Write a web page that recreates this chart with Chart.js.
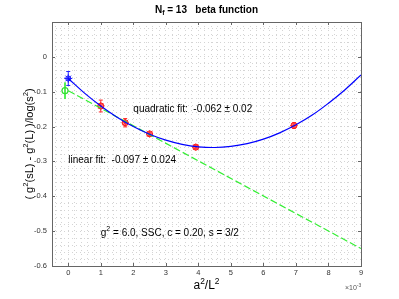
<!DOCTYPE html>
<html>
<head>
<meta charset="utf-8">
<title>Nf = 13 beta function</title>
<script src="https://cdn.jsdelivr.net/npm/chart.js@4.4.1/dist/chart.umd.min.js"></script>
<style>
    html, body { margin: 0; padding: 0; background: #fff; }
    #wrap { width: 399px; height: 299px; }
</style>
</head>
<body>
<div id="wrap"><canvas id="betaChart" width="399" height="299"></canvas></div>
<script>
// ============================================
// DATA (a^2/L^2 in units of 1e-3)
// ============================================

// measured points
const dataX = [1.0, 1.75, 2.5, 3.92, 6.94];
const dataY = [-0.141, -0.189, -0.221, -0.259, -0.197];
const dataErr = [0.017, 0.012, 0.005, 0.005, 0.008];

// continuum values at a^2/L^2 = 0
const quadX = [0];
const quadY = [-0.062];
const quadErr = [0.02];
const linX = [-0.1];
const linY = [-0.097];
const linErr = [0.024];

// fit curves
const quadCurveX = [0, 0.5, 1, 1.5, 2, 2.5, 3, 3.5, 4, 4.5, 5, 5.5, 6, 6.5, 7, 7.5, 8, 8.5, 9];
const quadCurveY = [-0.062, -0.104, -0.141, -0.173, -0.200, -0.222, -0.239, -0.251, -0.258, -0.260,
    -0.257, -0.249, -0.236, -0.218, -0.195, -0.167, -0.133, -0.095, -0.052];
const linLineX = [0, 9];
const linLineY = [-0.097, -0.550];

// axes
const xTicks = [0, 1, 2, 3, 4, 5, 6, 7, 8, 9];
const xTickLabels = ['0', '1', '2', '3', '4', '5', '6', '7', '8', '9'];
const yTicks = [-0.6, -0.5, -0.4, -0.3, -0.2, -0.1, 0];
const yTickLabels = ['-0.6', '-0.5', '-0.4', '-0.3', '-0.2', '-0.1', '0'];

const FONT = "'Liberation Sans', Arial, Helvetica, sans-serif";

function toPoints(xs, ys) {
    return xs.map((x, i) => ({ x: x, y: ys[i] }));
}

function majorIndex(list, v) {
    return list.findIndex(t => Math.abs(t - v) < 1e-6);
}

// ============================================
// TEXT WITH SUPER / SUBSCRIPTS
// ============================================

function drawRuns(ctx, runs, x, y, size, align, weight) {
    const w = weight || 'normal';
    let total = 0;
    runs.forEach(r => {
        const s = (r.sup || r.sub) ? size * 0.7 : size;
        ctx.font = w + ' ' + s + 'px ' + FONT;
        r.w = ctx.measureText(r.t).width;
        total += r.w;
    });
    let cx = align === 'center' ? x - total / 2 : x;
    ctx.textAlign = 'left';
    ctx.textBaseline = 'middle';
    runs.forEach(r => {
        const s = (r.sup || r.sub) ? size * 0.7 : size;
        ctx.font = w + ' ' + s + 'px ' + FONT;
        let dy = 0;
        if (r.sup) dy = -size * 0.38;
        if (r.sub) dy = size * 0.3;
        ctx.fillText(r.t, cx, y + dy);
        cx += r.w;
    });
}

// ============================================
// PLUGINS
// ============================================

const errorBarSets = [
    { xs: dataX, ys: dataY, errs: dataErr, color: '#ff2a2a', width: 1, cap: 2 },
    { xs: quadX, ys: quadY, errs: quadErr, color: '#2222ff', width: 1, cap: 2 },
    { xs: linX, ys: linY, errs: linErr, color: '#55f055', width: 2, cap: 0 }
];

const errorBarPlugin = {
    id: 'errorBars',
    beforeDatasetsDraw(chart) {
        const ctx = chart.ctx;
        const xs = chart.scales.x, ys = chart.scales.y;
        ctx.save();
        errorBarSets.forEach(set => {
            ctx.strokeStyle = set.color;
            ctx.lineWidth = set.width;
            set.xs.forEach((xv, i) => {
                const px = xs.getPixelForValue(xv);
                const top = ys.getPixelForValue(set.ys[i] + set.errs[i]);
                const bot = ys.getPixelForValue(set.ys[i] - set.errs[i]);
                ctx.beginPath();
                ctx.moveTo(px, top);
                ctx.lineTo(px, bot);
                if (set.cap) {
                    ctx.moveTo(px - set.cap, top);
                    ctx.lineTo(px + set.cap, top);
                    ctx.moveTo(px - set.cap, bot);
                    ctx.lineTo(px + set.cap, bot);
                }
                ctx.stroke();
            });
        });
        ctx.restore();
    }
};

const framePlugin = {
    id: 'frame',
    afterDraw(chart) {
        const ctx = chart.ctx;
        const a = chart.chartArea;
        const xs = chart.scales.x, ys = chart.scales.y;
        ctx.save();
        ctx.strokeStyle = '#666';
        ctx.lineWidth = 1;
        ctx.strokeRect(Math.round(a.left) + 0.5, Math.round(a.top) + 0.5,
            Math.round(a.right - a.left), Math.round(a.bottom - a.top));

        // inward ticks on all four sides
        const tl = 3;
        ctx.beginPath();
        xTicks.forEach(v => {
            const px = Math.round(xs.getPixelForValue(v)) + 0.5;
            ctx.moveTo(px, a.bottom);
            ctx.lineTo(px, a.bottom - tl);
            ctx.moveTo(px, a.top);
            ctx.lineTo(px, a.top + tl);
        });
        yTicks.forEach(v => {
            const py = Math.round(ys.getPixelForValue(v)) + 0.5;
            ctx.moveTo(a.left, py);
            ctx.lineTo(a.left + tl, py);
            ctx.moveTo(a.right, py);
            ctx.lineTo(a.right - tl, py);
        });
        ctx.stroke();

        // title
        ctx.fillStyle = '#000';
        const midX = (a.left + a.right) / 2;
        drawRuns(ctx, [{ t: 'N' }, { t: 'f', sub: true }, { t: ' = 13   beta function' }],
            midX, 10, 10, 'center', 'bold');

        // x label and exponent
        drawRuns(ctx, [{ t: 'a' }, { t: '2', sup: true }, { t: '/L' }, { t: '2', sup: true }],
            midX, 286, 12, 'center');
        ctx.fillStyle = '#555';
        drawRuns(ctx, [{ t: '\u00d710' }, { t: '-3', sup: true }], a.right - 16, 288, 7, 'left');

        // y label
        ctx.fillStyle = '#000';
        ctx.save();
        ctx.translate(30, (a.top + a.bottom) / 2);
        ctx.rotate(-Math.PI / 2);
        drawRuns(ctx, [
            { t: '( g' }, { t: '2', sup: true }, { t: '(sL) - g' }, { t: '2', sup: true },
            { t: '(L) )/log(s' }, { t: '2', sup: true }, { t: ')' }
        ], 0, 0, 11, 'center');
        ctx.restore();

        // annotations
        drawRuns(ctx, [{ t: 'quadratic fit:  -0.062 \u00b1 0.02' }],
            xs.getPixelForValue(2.0), ys.getPixelForValue(-0.149), 10, 'left');
        drawRuns(ctx, [{ t: 'linear fit:  -0.097 \u00b1 0.024' }],
            xs.getPixelForValue(0), ys.getPixelForValue(-0.296), 10, 'left');
        drawRuns(ctx, [{ t: 'g' }, { t: '2', sup: true }, { t: ' = 6.0, SSC, c = 0.20, s = 3/2' }],
            xs.getPixelForValue(1.0), ys.getPixelForValue(-0.505), 10, 'left');
        ctx.restore();
    }
};

// ============================================
// CHART
// ============================================

function buildChart() {
    const ctx = document.getElementById('betaChart');

    // minor grid positions (0.2 on x, 0.02 on y)
    const xGrid = [];
    for (let i = -2; i <= 45; i++) xGrid.push(Math.round(i * 0.2 * 10) / 10);
    const yGrid = [];
    for (let i = -30; i <= 5; i++) yGrid.push(Math.round(i * 0.02 * 100) / 100);

    new Chart(ctx, {
        type: 'scatter',
        data: {
            datasets: [
                {
                    label: 'quadratic fit',
                    data: toPoints(quadCurveX, quadCurveY),
                    showLine: true,
                    borderColor: '#0000ff',
                    borderWidth: 1.2,
                    pointRadius: 0,
                    tension: 0.4,
                    fill: false
                },
                {
                    label: 'linear fit',
                    data: toPoints(linLineX, linLineY),
                    showLine: true,
                    borderColor: '#33ee33',
                    borderWidth: 1.2,
                    borderDash: [7, 3],
                    pointRadius: 0,
                    fill: false
                },
                {
                    label: 'data',
                    data: toPoints(dataX, dataY),
                    pointStyle: 'circle',
                    pointRadius: 3,
                    backgroundColor: 'rgba(255, 80, 80, 0.4)',
                    borderColor: '#ff1a1a',
                    borderWidth: 1
                },
                {
                    label: 'data star',
                    data: toPoints(dataX, dataY),
                    pointStyle: 'star',
                    pointRadius: 3.5,
                    borderColor: '#ff1a1a',
                    borderWidth: 1
                },
                {
                    label: 'quadratic extrapolation',
                    data: toPoints(quadX, quadY),
                    pointStyle: 'star',
                    pointRadius: 4,
                    borderColor: '#1a1aff',
                    borderWidth: 1
                },
                {
                    label: 'quadratic extrapolation ring',
                    data: toPoints(quadX, quadY),
                    pointStyle: 'circle',
                    pointRadius: 2.5,
                    backgroundColor: 'rgba(0,0,0,0)',
                    borderColor: '#1a1aff',
                    borderWidth: 1
                },
                {
                    label: 'linear extrapolation',
                    data: toPoints(linX, linY),
                    pointStyle: 'circle',
                    pointRadius: 3,
                    backgroundColor: 'rgba(0,0,0,0)',
                    borderColor: '#33dd33',
                    borderWidth: 1.2
                }
            ]
        },
        options: {
            responsive: false,
            animation: false,
            layout: { padding: { left: 0, top: 22, right: 38, bottom: 0 } },
            plugins: {
                legend: { display: false },
                tooltip: { enabled: false }
            },
            scales: {
                x: {
                    type: 'linear',
                    min: -0.5,
                    max: 9,
                    afterBuildTicks: scale => {
                        scale.ticks = xGrid.map(v => ({ value: v }));
                    },
                    afterFit: scale => { scale.height = 33; },
                    ticks: {
                        autoSkip: false,
                        maxRotation: 0,
                        padding: 2,
                        color: '#333',
                        font: { family: FONT, size: 7.5 },
                        callback: value => {
                            const i = majorIndex(xTicks, value);
                            return i >= 0 ? xTickLabels[i] : '';
                        }
                    },
                    grid: {
                        drawTicks: false,
                        color: '#d4d4d4',
                        lineWidth: 1
                    },
                    border: { display: false, dash: [1, 3] }
                },
                y: {
                    type: 'linear',
                    min: -0.6,
                    max: 0.1,
                    afterBuildTicks: scale => {
                        scale.ticks = yGrid.map(v => ({ value: v }));
                    },
                    afterFit: scale => { scale.width = 52; },
                    ticks: {
                        autoSkip: false,
                        padding: 5,
                        color: '#333',
                        font: { family: FONT, size: 7.5 },
                        callback: value => {
                            const i = majorIndex(yTicks, value);
                            return i >= 0 ? yTickLabels[i] : '';
                        }
                    },
                    grid: {
                        drawTicks: false,
                        color: '#d4d4d4',
                        lineWidth: 1
                    },
                    border: { display: false, dash: [1, 3] }
                }
            }
        },
        plugins: [errorBarPlugin, framePlugin]
    });
}

buildChart();
</script>
</body>
</html>
